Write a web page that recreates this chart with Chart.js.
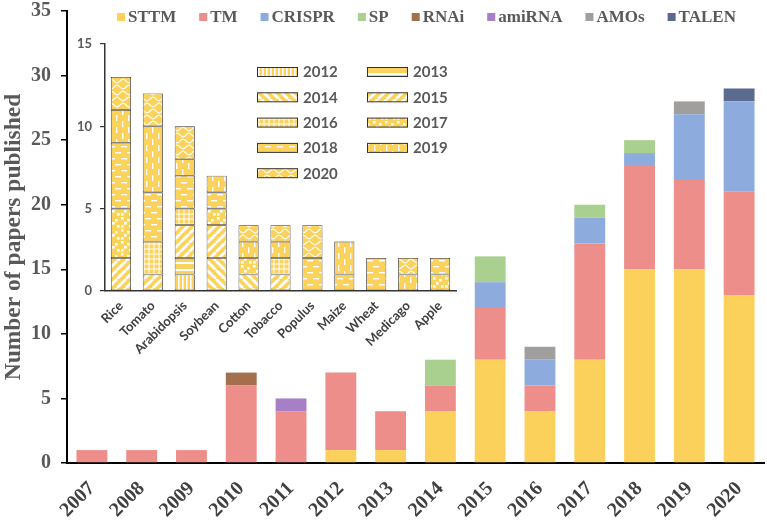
<!DOCTYPE html>
<html>
<head>
<meta charset="utf-8">
<script src="https://cdn.jsdelivr.net/npm/chart.js@4.4.0/dist/chart.umd.min.js"></script>
<style>
  html, body { margin: 0; padding: 0; background: #fff; }
  #wrap { position: relative; width: 767px; height: 523px; }
  #wrap canvas { position: absolute; left: 0; top: 0; }
</style>
</head>
<body>
<div id="wrap">
  <canvas id="mainChart" width="767" height="523"></canvas>
  <canvas id="insetChart" width="767" height="523"></canvas>
</div>
<script>
// Main chart data
const years = ["2007", "2008", "2009", "2010", "2011", "2012", "2013", "2014", "2015", "2016", "2017", "2018", "2019", "2020"];
const sttm   = [0, 0, 0, 0, 0, 1, 1, 4, 8, 4, 8, 15, 15, 13];
const tm     = [1, 1, 1, 6, 4, 6, 3, 2, 4, 2, 9, 8, 7, 8];
const crispr = [0, 0, 0, 0, 0, 0, 0, 0, 2, 2, 2, 1, 5, 7];
const sp     = [0, 0, 0, 0, 0, 0, 0, 2, 2, 0, 1, 1, 0, 0];
const rnai   = [0, 0, 0, 1, 0, 0, 0, 0, 0, 0, 0, 0, 0, 0];
const amirna = [0, 0, 0, 0, 1, 0, 0, 0, 0, 0, 0, 0, 0, 0];
const amos   = [0, 0, 0, 0, 0, 0, 0, 0, 0, 1, 0, 0, 1, 0];
const talen  = [0, 0, 0, 0, 0, 0, 0, 0, 0, 0, 0, 0, 0, 1];
const yTicks = [0, 5, 10, 15, 20, 25, 30, 35];

// Inset chart data (papers per crop, split by year)
const crops = ["Rice", "Tomato", "Arabidopsis", "Soybean", "Cotton", "Tobacco", "Populus", "Maize", "Wheat", "Medicago", "Apple"];
const insetYears = ["2012", "2013", "2014", "2015", "2016", "2017", "2018", "2019", "2020"];
const y2012 = [0, 0, 1, 0, 0, 0, 0, 0, 0, 0, 0];
const y2013 = [0, 0, 1, 0, 0, 0, 0, 0, 0, 0, 0];
const y2014 = [0, 0, 0, 2, 1, 0, 0, 0, 0, 0, 0];
const y2015 = [2, 1, 2, 2, 0, 1, 0, 0, 0, 0, 0];
const y2016 = [0, 2, 1, 0, 0, 1, 0, 0, 0, 0, 0];
const y2017 = [3, 0, 0, 1, 1, 0, 0, 0, 0, 0, 1];
const y2018 = [4, 3, 2, 1, 0, 0, 2, 1, 2, 0, 1];
const y2019 = [2, 4, 1, 1, 1, 1, 0, 2, 0, 1, 0];
const y2020 = [2, 2, 2, 0, 1, 1, 2, 0, 0, 1, 0];
const insetTicks = [0, 5, 10, 15];

// Patterns for the inset
const YEL = "#FBD25B";
function makePattern(kind) {
  const c = document.createElement("canvas");
  const g = c.getContext("2d");
  let s = 12;
  if (kind === "vstripe") s = 4;
  if (kind === "hstripe") s = 7;
  if (kind === "grid") s = 5;
  if (kind === "bslash" || kind === "slash") s = 9;
  c.width = s; c.height = s;
  g.fillStyle = YEL;
  g.fillRect(0, 0, s, s);
  g.fillStyle = "#fff";
  g.strokeStyle = "#fff";
  if (kind === "vstripe") {
    g.fillRect(2, 0, 1.6, s);
  } else if (kind === "hstripe") {
    g.fillRect(0, 3, s, 2);
  } else if (kind === "bslash" || kind === "slash") {
    g.lineWidth = 2.8;
    for (const a of [-s, 0, s]) {
      g.beginPath();
      if (kind === "bslash") { g.moveTo(a, 0); g.lineTo(a + s, s); }
      else { g.moveTo(a, s); g.lineTo(a + s, 0); }
      g.stroke();
    }
  } else if (kind === "grid") {
    g.fillRect(3.5, 0, 1, s);
    g.fillRect(0, 3.5, s, 1);
  } else if (kind === "squares") {
    [[1, 1], [7, 3], [4, 6], [9, 9], [1, 9]].forEach(p => g.fillRect(p[0], p[1], 2.6, 2.6));
  } else if (kind === "hdash") {
    g.fillRect(1, 2, 6, 1.4);
    g.fillRect(7, 8, 5, 1.4);
    g.fillRect(0, 8, 1, 1.4);
  } else if (kind === "vdash") {
    g.fillRect(2, 1, 1.4, 6);
    g.fillRect(8, 7, 1.4, 5);
    g.fillRect(8, 0, 1.4, 1);
  } else if (kind === "wave") {
    g.lineWidth = 1.2;
    g.beginPath();
    for (let x = 0; x <= s; x += 0.5) {
      const y = 3 + 1.8 * Math.sin((x / s) * Math.PI * 2);
      if (x === 0) g.moveTo(x, y); else g.lineTo(x, y);
    }
    g.stroke();
    g.beginPath();
    for (let x = 0; x <= s; x += 0.5) {
      const y = 9 + 1.8 * Math.sin((x / s) * Math.PI * 2 + Math.PI);
      if (x === 0) g.moveTo(x, y); else g.lineTo(x, y);
    }
    g.stroke();
  }
  return g.createPattern(c, "repeat");
}
const patternKinds = ["vstripe", "hstripe", "bslash", "slash", "grid", "squares", "hdash", "vdash", "wave"];

// Main legend, drawn inside the plot area
const mainLegend = {
  id: "mainLegend",
  afterDraw(chart) {
    const ctx = chart.ctx;
    ctx.save();
    ctx.font = 'bold 17px "Liberation Serif"';
    ctx.textBaseline = "middle";
    let x = 117;
    chart.data.datasets.forEach(ds => {
      ctx.fillStyle = ds.backgroundColor;
      ctx.fillRect(x, 13, 8, 8);
      ctx.fillStyle = "#595959";
      ctx.fillText(ds.label, x + 11, 17.5);
      x += 11 + ctx.measureText(ds.label).width + 23;
    });
    ctx.restore();
  }
};

// Main chart
const mainSeries = [
  ["STTM", sttm, "#FCD15B"],
  ["TM", tm, "#EE8E8B"],
  ["CRISPR", crispr, "#8EABDD"],
  ["SP", sp, "#A9D08E"],
  ["RNAi", rnai, "#A36F4C"],
  ["amiRNA", amirna, "#A77FC7"],
  ["AMOs", amos, "#A19E9E"],
  ["TALEN", talen, "#5B6B90"],
];

const mainConfig = {
  type: "bar",
  data: {
    labels: years,
    datasets: mainSeries.map(s => ({
      label: s[0],
      data: s[1],
      backgroundColor: s[2],
      barPercentage: 0.62,
      categoryPercentage: 1,
    })),
  },
  options: {
    responsive: false,
    animation: false,
    layout: { padding: { top: 11, right: 3, left: 0, bottom: 0 } },
    plugins: { legend: { display: false }, tooltip: { enabled: false } },
    scales: {
      x: {
        stacked: true,
        grid: { display: false, drawTicks: false },
        border: { display: true, color: "#000", width: 2 },
        ticks: {
          autoSkip: false, minRotation: 45, maxRotation: 45, padding: 14,
          color: "#404040", font: { family: "Liberation Serif", size: 20, weight: "bold" },
        },
        afterFit(scale) { scale.height = 60; scale.paddingLeft = 0; scale.paddingRight = 0; },
      },
      y: {
        stacked: true,
        min: 0, max: 35,
        afterBuildTicks(scale) { scale.ticks = yTicks.map(v => ({ value: v })); },
        grid: { drawOnChartArea: false, drawTicks: true, tickLength: 6, color: "#000", lineWidth: 1.5 },
        border: { display: true, color: "#000", width: 2 },
        ticks: { padding: 10, color: "#595959", font: { family: "Liberation Serif", size: 20, weight: "bold" } },
        title: {
          display: true, text: "Number of papers published", color: "#595959",
          font: { family: "Liberation Serif", size: 23.5, weight: "bold" }, padding: { top: 0, bottom: 0 },
        },
        afterFit(scale) { scale.width = 67; scale.paddingTop = 0; scale.paddingBottom = 0; },
      },
    },
  },
  plugins: [mainLegend],
};
const mainChart = new Chart(document.getElementById("mainChart"), mainConfig);

// Inset legend in two columns
const insetLegend = {
  id: "insetLegend",
  afterDraw(chart) {
    const ctx = chart.ctx;
    ctx.save();
    ctx.font = 'bold 15px "Lato"';
    ctx.textBaseline = "middle";
    chart.data.datasets.forEach((ds, i) => {
      const x = i % 2 === 0 ? 257 : 367;
      const cy = 72 + Math.floor(i / 2) * 25.3;
      ctx.fillStyle = ds.backgroundColor;
      ctx.fillRect(x, cy - 4.5, 40, 9);
      ctx.strokeStyle = "#333";
      ctx.lineWidth = 1;
      ctx.strokeRect(x + 0.5, cy - 4.5, 40, 9);
      ctx.fillStyle = "#595959";
      ctx.fillText(ds.label, x + 46, cy + 0.5);
    });
    ctx.restore();
  }
};

const insetData = [y2012, y2013, y2014, y2015, y2016, y2017, y2018, y2019, y2020];
const insetConfig = {
  type: "bar",
  data: {
    labels: crops,
    datasets: insetYears.map((yr, i) => ({
      label: yr,
      data: insetData[i].map(v => (v === 0 ? null : v)),
      backgroundColor: makePattern(patternKinds[i]),
      borderColor: "#333",
      borderWidth: 0.8,
      borderSkipped: false,
      barPercentage: 0.63,
      categoryPercentage: 1,
    })),
  },
  options: {
    responsive: false,
    animation: false,
    layout: { padding: { top: 44, right: 311, left: 0, bottom: 152 } },
    plugins: { legend: { display: false }, tooltip: { enabled: false } },
    scales: {
      x: {
        stacked: true,
        grid: { display: false, drawTicks: false },
        border: { display: true, color: "#333", width: 1.5 },
        ticks: {
          autoSkip: false, minRotation: 45, maxRotation: 45, padding: 7,
          color: "#404040", font: { family: "Lato", size: 13, weight: "bold" },
        },
        afterFit(scale) { scale.height = 80; scale.paddingLeft = 0; scale.paddingRight = 0; },
      },
      y: {
        stacked: true,
        min: 0, max: 15,
        afterBuildTicks(scale) { scale.ticks = insetTicks.map(v => ({ value: v })); },
        grid: { drawOnChartArea: false, drawTicks: true, tickLength: 5, color: "#333", lineWidth: 1.2 },
        border: { display: true, color: "#333", width: 1.5 },
        ticks: { padding: 8, color: "#595959", font: { family: "Lato", size: 13, weight: "bold" } },
        afterFit(scale) { scale.width = 105; scale.paddingTop = 0; scale.paddingBottom = 0; },
      },
    },
  },
  plugins: [insetLegend],
};
const insetChart = new Chart(document.getElementById("insetChart"), insetConfig);
</script>
</body>
</html>
